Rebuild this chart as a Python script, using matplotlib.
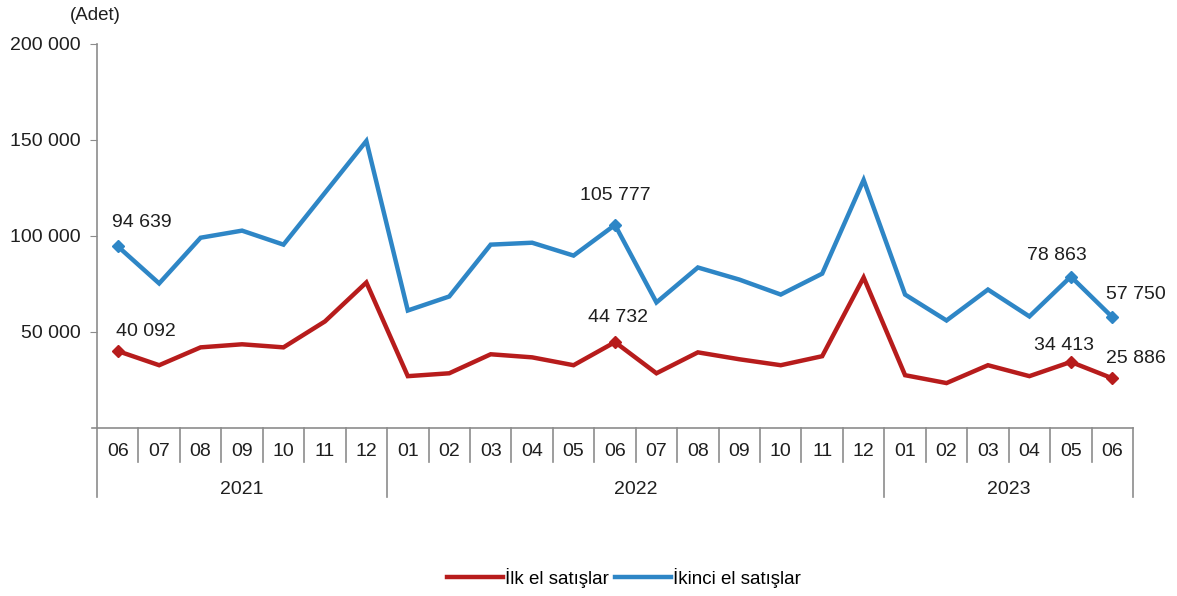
import matplotlib
matplotlib.use("Agg")
import matplotlib.pyplot as plt
import matplotlib.transforms as mtransforms
from matplotlib.lines import Line2D

plt.rcParams['font.family'] = ['Liberation Sans', 'DejaVu Sans']

months = ["06", "07", "08", "09", "10", "11", "12",
          "01", "02", "03", "04", "05", "06", "07", "08", "09", "10", "11", "12",
          "01", "02", "03", "04", "05", "06"]
years = ["2021", "2022", "2023"]
year_counts = [7, 12, 6]

ilk_el = [40092, 32700, 42000, 43600, 42000, 55500, 75800,
          27000, 28500, 38400, 36800, 32700, 44732, 28500, 39400, 35800, 32700, 37400, 78400,
          27500, 23400, 32700, 27000, 34413, 25886]
ikinci_el = [94639, 75300, 99100, 102800, 95500, 122500, 149500,
             61200, 68500, 95500, 96500, 89800, 105777, 65400, 83600, 77300, 69500, 80400, 129200,
             69500, 56000, 72100, 58100, 78863, 57750]

labeled_idx = [0, 12, 23, 24]
yticks = [50000, 100000, 150000, 200000]

red = "#B71C1C"
blue = "#2E86C6"
grey = "#8C8C8C"
txt = "#1f1f1f"

fig = plt.figure(figsize=(11.77, 5.96), dpi=100)
ax = fig.add_axes([97/1177, 1-428/596, (1133-97)/1177, (428-44)/596])

x = list(range(len(months)))
ax.plot(x, ilk_el, color=red, lw=3.2, solid_joinstyle='miter', zorder=3)
ax.plot(x, ikinci_el, color=blue, lw=3.2, solid_joinstyle='miter', zorder=3)
ax.plot([x[i] for i in labeled_idx], [ilk_el[i] for i in labeled_idx], 'D',
        color=red, ms=6.5, zorder=4)
ax.plot([x[i] for i in labeled_idx], [ikinci_el[i] for i in labeled_idx], 'D',
        color=blue, ms=6.5, zorder=4)

def fmt(v):
    return f"{v:,}".replace(",", " ")

offsets_blue = {0: (17, 17), 12: (0, 21), 23: (-10, 15), 24: (17, 16)}
offsets_red = {0: (20, 14), 12: (2, 18), 23: (-5, 12), 24: (17, 14)}
for i in labeled_idx:
    ax.annotate(fmt(ikinci_el[i]), (x[i], ikinci_el[i]), xytext=offsets_blue[i],
                textcoords='offset points', ha='center', va='center', fontsize=14,
                color=txt)
    ax.annotate(fmt(ilk_el[i]), (x[i], ilk_el[i]), xytext=offsets_red[i],
                textcoords='offset points', ha='center', va='center', fontsize=14,
                color=txt)

ax.set_xlim(-0.5, len(months) - 0.5)
ax.set_ylim(0, 200000)
ax.set_yticks(yticks)
ax.set_yticklabels([fmt(v) for v in yticks], fontsize=14, color=txt)
ax.tick_params(axis='y', length=5, color=grey, pad=7)
ax.set_xticks([])
for s in ['top', 'right']:
    ax.spines[s].set_visible(False)
ax.spines['left'].set_color(grey)
ax.spines['bottom'].set_color(grey)
ax.spines['left'].set_linewidth(1.2)
ax.spines['bottom'].set_linewidth(1.2)

trans = mtransforms.blended_transform_factory(ax.transData, ax.transAxes)
px = 1 / (428 - 44)  # one pixel in axes fraction (vertical)
month_bottom = -(462 - 428) * px
year_bottom = -(497 - 428) * px
month_y = -(452 - 428) * px
year_y = -(490 - 428) * px

ax.plot([-0.5 - 5/41.46, -0.5], [0, 0], transform=trans, color=grey, lw=1.2, clip_on=False)

for i, m in enumerate(months):
    ax.text(i, month_y, m, transform=trans, ha='center', va='center', fontsize=14,
            color=txt)

boundaries = [-0.5]
acc = -0.5
for c in year_counts:
    acc += c
    boundaries.append(acc)
for i in range(len(months) + 1):
    xb = i - 0.5
    bottom = year_bottom if xb in boundaries else month_bottom
    ax.plot([xb, xb], [0, bottom], transform=trans, color=grey, lw=1.2, clip_on=False)

for j, yr in enumerate(years):
    center = (boundaries[j] + boundaries[j + 1]) / 2
    ax.text(center, year_y, yr, transform=trans, ha='center', va='center', fontsize=14,
            color=txt)

fig.text(95/1177, 1 - 16/596, "(Adet)", ha='center', va='center', fontsize=13.5,
         color=txt)

handles = [Line2D([0], [0], color=red, lw=3.2), Line2D([0], [0], color=blue, lw=3.2)]
fig.legend(handles, ["İlk el satışlar", "İkinci el satışlar"], loc='center',
           bbox_to_anchor=(0.53, 1 - 578/596), ncol=2, frameon=False, fontsize=13.5,
           handlelength=3.0, handletextpad=0.1, columnspacing=0.3)

fig.savefig("out.png", dpi=100, facecolor='white')
